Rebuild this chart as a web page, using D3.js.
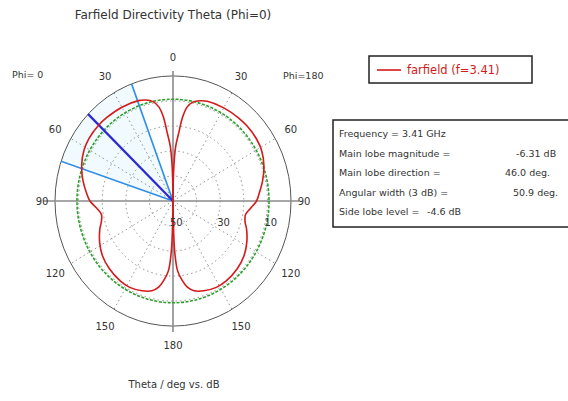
<!DOCTYPE html>
<html>
<head>
<meta charset="utf-8">
<script src="https://cdn.jsdelivr.net/npm/d3@7"></script>
<style>
  html, body { margin: 0; padding: 0; background: #fff; }
  svg { display: block; }
  text { font-family: "DejaVu Sans", "Liberation Sans", sans-serif; fill: #333; }
</style>
</head>
<body>
<svg id="chart" width="568" height="401"></svg>
<script>
// Directivity (dB) vs theta for the two half-planes of the Phi=0 cut
const thetaPhi0 = [0, 1, 2, 3, 5, 7, 9, 12, 16, 20, 30, 40, 46, 55, 62, 70, 78, 85, 90, 95, 100, 105, 110, 118, 126, 135, 145, 152, 160, 166, 170, 173, 176, 178, 180];
const dbPhi0    = [-50, -40, -33, -28, -23, -16, -12, -9.4, -8.0, -7.3, -6.7, -6.4, -6.31, -6.5, -7.2, -8.8, -11.0, -13.2, -14.8, -17.5, -19.2, -18.6, -17.0, -14.8, -13.0, -11.8, -11.0, -10.9, -11.8, -13.0, -15.0, -18.0, -22.0, -30.0, -50];
const thetaPhi180 = [0, 1, 2, 3, 5, 7, 9, 12, 16, 20, 30, 40, 46, 55, 62, 70, 78, 85, 90, 95, 100, 105, 110, 118, 126, 135, 145, 152, 160, 166, 170, 173, 176, 178, 180];
const dbPhi180    = [-50, -40, -33, -28, -23, -16, -12, -9.6, -8.3, -7.6, -7.0, -6.7, -6.6, -6.8, -7.4, -9.0, -11.2, -13.3, -14.6, -17.0, -18.8, -18.4, -16.8, -14.6, -12.8, -11.6, -10.9, -10.9, -11.8, -13.0, -15.0, -18.0, -22.0, -30.0, -50];

// Beam summary
const mainLobeDb = -6.31;
const mainLobeDir = 46.0;
const beamWidth = 50.9;
const sideLobeLevel = -4.6;

// Axis labels
const angleTicks = [0, 30, 60, 90, 120, 150, 180];
const ringTicks = [-40, -30, -20, -10];
const ringLabels = [{v: -50, t: "50"}, {v: -30, t: "30"}, {v: -10, t: "10"}];

const infoLabels = ["Frequency = 3.41 GHz", "Main lobe magnitude =", "Main lobe direction =", "Angular width (3 dB) =", "Side lobe level ="];
const infoValues = ["", "-6.31 dB", "46.0 deg.", "50.9 deg.", "-4.6 dB"];
const infoValueX = [0, 516, 505, 513, 427];

const svg = d3.select("#chart");
const cx = 173, cy = 201, ky = 1.06;
const R = 118;
const r = d3.scaleLinear().domain([-50, 0]).range([0, R]).clamp(true);
const rad = d => d * Math.PI / 180;
// side = -1 for Phi=0 (left half), +1 for Phi=180 (right half)
const pt = (theta, radius, side) => [cx + side * radius * Math.sin(rad(theta)), cy - radius * Math.cos(rad(theta)) * ky];

// title
svg.append("text").attr("x", 173).attr("y", 19).attr("text-anchor", "middle")
  .attr("font-size", 12).text("Farfield Directivity Theta (Phi=0)");

const plot = svg.append("g");

// 3 dB beam sector shading
const lo = mainLobeDir - beamWidth / 2, hi = mainLobeDir + beamWidth / 2;
const sector = [[cx, cy]].concat(d3.range(lo, hi + 0.01, 1).map(t => pt(t, R, -1)));
plot.append("path").attr("d", d3.line()(sector) + "Z")
  .attr("fill", "#cdeeff").attr("opacity", 0.3);

// dotted rings
ringTicks.forEach(v => {
  plot.append("ellipse").attr("cx", cx).attr("cy", cy).attr("rx", r(v)).attr("ry", r(v) * ky)
    .attr("fill", "none").attr("stroke", "#777").attr("stroke-width", 0.8).attr("stroke-dasharray", "1.5,3");
});

// dotted spokes
[30, 60, 120, 150].forEach(t => {
  [-1, 1].forEach(s => {
    const p = pt(t, R, s);
    plot.append("line").attr("x1", cx).attr("y1", cy).attr("x2", p[0]).attr("y2", p[1])
      .attr("stroke", "#777").attr("stroke-width", 0.8).attr("stroke-dasharray", "1.5,3");
  });
});

// outer circle
plot.append("ellipse").attr("cx", cx).attr("cy", cy).attr("rx", R).attr("ry", R * ky)
  .attr("fill", "none").attr("stroke", "#555").attr("stroke-width", 1);

// main axes
plot.append("line").attr("x1", cx - R - 12).attr("x2", cx + R + 8).attr("y1", cy).attr("y2", cy)
  .attr("stroke", "#8a8a8a").attr("stroke-width", 1.6);
plot.append("line").attr("x1", cx).attr("x2", cx).attr("y1", cy - R * ky - 5).attr("y2", cy + R * ky + 6)
  .attr("stroke", "#8a8a8a").attr("stroke-width", 1.6);

// -3 dB reference circle
plot.append("ellipse").attr("cx", cx).attr("cy", cy).attr("rx", r(mainLobeDb - 3)).attr("ry", r(mainLobeDb - 3) * ky)
  .attr("fill", "none").attr("stroke", "#2aa02a").attr("stroke-width", 1.6).attr("stroke-dasharray", "3,1.5");

// beam width lines
[lo, hi].forEach(t => {
  const p = pt(t, R, -1);
  plot.append("line").attr("x1", cx).attr("y1", cy).attr("x2", p[0]).attr("y2", p[1])
    .attr("stroke", "#2f8fe8").attr("stroke-width", 1.6);
});
// main lobe direction
{
  const p = pt(mainLobeDir, R, -1);
  plot.append("line").attr("x1", cx).attr("y1", cy).attr("x2", p[0]).attr("y2", p[1])
    .attr("stroke", "#2a2ad0").attr("stroke-width", 2.2);
}

// pattern curves
const line = d3.line().curve(d3.curveCatmullRom.alpha(0.5));
const left = thetaPhi0.map((t, i) => pt(t, r(dbPhi0[i]), -1));
const right = thetaPhi180.map((t, i) => pt(t, r(dbPhi180[i]), 1));
[left, right].forEach(pts => {
  plot.append("path").attr("d", line(pts)).attr("fill", "none")
    .attr("stroke", "#d41a1a").attr("stroke-width", 1.6);
});

// angle labels
angleTicks.forEach(t => {
  const sides = (t === 0 || t === 180) ? [1] : [-1, 1];
  const off = t === 90 ? 13 : 18;
  sides.forEach(s => {
    const p = pt(t, R + off, s);
    svg.append("text").attr("x", p[0]).attr("y", p[1] + 4).attr("text-anchor", "middle")
      .attr("font-size", 10).text(t);
  });
});
svg.append("text").attr("x", 12).attr("y", 78).attr("font-size", 9.5).text("Phi= 0");
svg.append("text").attr("x", 283).attr("y", 79).attr("font-size", 9.5).text("Phi=180");

// ring labels
ringLabels.forEach(d => {
  svg.append("text").attr("x", cx + r(d.v) - 3).attr("y", cy + 25).attr("font-size", 10).text(d.t);
});

// axis title
svg.append("text").attr("x", 174).attr("y", 388).attr("text-anchor", "middle")
  .attr("font-size", 10).text("Theta / deg vs. dB");

// legend
const lg = svg.append("g");
lg.append("rect").attr("x", 369).attr("y", 56).attr("width", 163).attr("height", 27)
  .attr("fill", "#fff").attr("stroke", "#222").attr("stroke-width", 1.5);
lg.append("line").attr("x1", 377).attr("x2", 401).attr("y1", 70).attr("y2", 70)
  .attr("stroke", "#d41a1a").attr("stroke-width", 1.6);
lg.append("text").attr("x", 407).attr("y", 74).attr("font-size", 11.5).style("fill", "#d41a1a")
  .text("farfield (f=3.41)");

// info box
const ib = svg.append("g");
ib.append("rect").attr("x", 333).attr("y", 120).attr("width", 240).attr("height", 107)
  .attr("fill", "#fff").attr("stroke", "#222").attr("stroke-width", 1.5);
infoLabels.forEach((t, i) => {
  ib.append("text").attr("x", 339).attr("y", 137 + i * 19.5).attr("font-size", 9.5).text(t);
  if (infoValues[i]) {
    ib.append("text").attr("x", infoValueX[i]).attr("y", 137 + i * 19.5).attr("font-size", 9.5).text(infoValues[i]);
  }
});
</script>
</body>
</html>
